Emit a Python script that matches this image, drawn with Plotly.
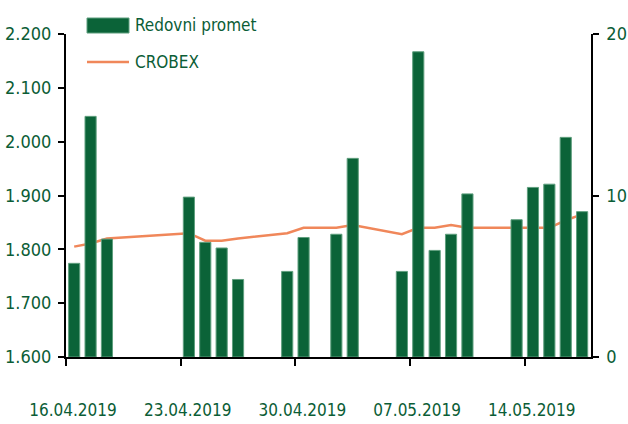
import plotly.graph_objects as go

dates = ["2019-04-16", "2019-04-17", "2019-04-18", "2019-04-23", "2019-04-24",
         "2019-04-25", "2019-04-26", "2019-04-29", "2019-04-30", "2019-05-02",
         "2019-05-03", "2019-05-06", "2019-05-07", "2019-05-08", "2019-05-09",
         "2019-05-10", "2019-05-13", "2019-05-14", "2019-05-15", "2019-05-16",
         "2019-05-17"]
promet = [5.8, 14.9, 7.3, 9.9, 7.1, 6.75, 4.8, 5.3, 7.4, 7.6, 12.3, 5.3, 18.9,
          6.6, 7.6, 10.1, 8.5, 10.5, 10.7, 13.6, 9.0]
crobex = [1805, 1811, 1820, 1830, 1816, 1816, 1820, 1830, 1840, 1840, 1845,
          1828, 1840, 1840, 1845, 1840, 1840, 1840, 1840, 1854, 1865]
tick_dates = ["2019-04-16", "2019-04-23", "2019-04-30", "2019-05-07", "2019-05-14"]
tick_labels = ["16.04.2019", "23.04.2019", "30.04.2019", "07.05.2019", "14.05.2019"]
left_ticks = [1600, 1700, 1800, 1900, 2000, 2100, 2200]
right_ticks = [0, 10, 20]

GREEN_TXT = "#0b5d36"
BAR = "#0b6338"
ORANGE = "#f0875a"
FONT = "Liberation Sans Narrow, Arial Narrow, DejaVu Sans Condensed, sans-serif"
DAY = 86400000

fig = go.Figure()
fig.add_trace(go.Bar(
    x=dates, y=promet, name="Redovni promet", yaxis="y2",
    xperiod=DAY, xperiodalignment="middle", width=0.68 * DAY,
    marker=dict(color=BAR, line=dict(color="#5f9f7e", width=1)),
))
fig.add_trace(go.Scatter(
    x=dates, y=crobex, name="CROBEX", mode="lines", yaxis="y",
    xperiod=DAY, xperiodalignment="middle",
    line=dict(color=ORANGE, width=2.5),
))

fig.update_layout(
    width=628, height=424,
    margin=dict(l=66, r=37, t=34, b=67),
    paper_bgcolor="white", plot_bgcolor="white",
    showlegend=False,
    separators=",.",
    font=dict(family=FONT, size=18, color=GREEN_TXT),
    xaxis=dict(
        type="date", range=["2019-04-16", "2019-05-18 01:00"],
        tickmode="array", tickvals=tick_dates, ticktext=tick_labels,
        tickangle=0, tickfont=dict(size=17),
        ticks="outside", ticklen=7, tickwidth=1.5, tickcolor="black",
        showline=True, linecolor="black", linewidth=2,
        showgrid=False, zeroline=False, automargin=False,
        ticklabelstandoff=30, ticklabelshift=7,
    ),
    yaxis=dict(
        range=[1600, 2200], tickmode="array", tickvals=left_ticks,
        tickformat=",d", tickfont=dict(size=18),
        ticks="outside", ticklen=6, tickwidth=1.5, tickcolor="black",
        showline=True, linecolor="black", linewidth=2,
        showgrid=False, zeroline=False, ticklabelstandoff=3, automargin=False,
    ),
    yaxis2=dict(
        range=[0, 20], tickmode="array", tickvals=right_ticks,
        overlaying="y", side="right", tickfont=dict(size=18),
        ticks="outside", ticklen=6, tickwidth=1.5, tickcolor="black",
        showline=True, linecolor="black", linewidth=1.5,
        showgrid=False, zeroline=False, ticklabelstandoff=4, automargin=False,
    ),
)

# manual legend
fig.add_shape(type="rect", xref="paper", yref="paper",
              x0=0.04, x1=0.12, y0=1.003, y1=1.0495,
              fillcolor=BAR, line=dict(color="#5f9f7e", width=1))
fig.add_shape(type="line", xref="paper", yref="paper",
              x0=0.04, x1=0.12, y0=0.913, y1=0.913,
              line=dict(color=ORANGE, width=2.5))
fig.add_annotation(text="Redovni promet", xref="paper", yref="paper",
                   x=0.1276, y=1.027, xanchor="left", yanchor="middle",
                   showarrow=False, font=dict(family=FONT, size=17, color=GREEN_TXT))
fig.add_annotation(text="CROBEX", xref="paper", yref="paper",
                   x=0.1276, y=0.913, xanchor="left", yanchor="middle",
                   showarrow=False, font=dict(family=FONT, size=17, color=GREEN_TXT))

fig.write_html("out.html", config={"displayModeBar": False},
               post_script="document.body.style.margin='0';document.body.style.overflow='hidden';")
